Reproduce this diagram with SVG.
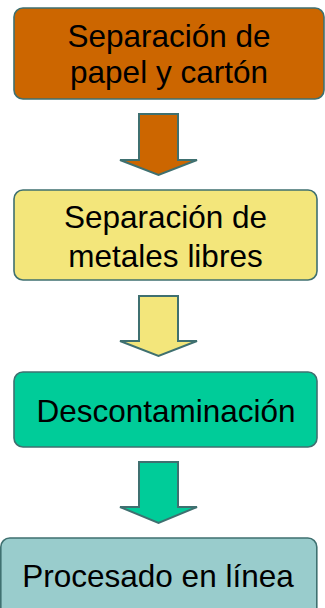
<svg xmlns="http://www.w3.org/2000/svg" width="325" height="608" viewBox="0 0 325 608">
<style>
.box{stroke:#3F7070;stroke-width:1.6}
.arr{stroke:#3F7070;stroke-width:2;stroke-linejoin:miter}
text{font-family:"Liberation Sans",Arial,sans-serif;font-size:31.5px;fill:#000;text-anchor:middle}
</style>
<rect width="325" height="608" fill="#fff"/>
<g id="node1">
<rect class="box" x="14" y="8" width="310" height="91" rx="9" fill="#CC6600"/>
<text x="169" y="46.5">Separación de</text>
<text x="169" y="82.5">papel y cartón</text>
</g>
<g id="node2">
<rect class="box" x="14" y="190" width="303" height="90" rx="9" fill="#F3E67B"/>
<text x="165.5" y="228">Separación de</text>
<text x="165.5" y="267">metales libres</text>
</g>
<g id="node3">
<rect class="box" x="14" y="372" width="303" height="75" rx="9" fill="#00CC99"/>
<text x="166" y="422">Descontaminación</text>
</g>
<g id="node4">
<rect class="box" x="0.8" y="538" width="316" height="80" rx="9" fill="#99CCCC"/>
<text x="158" y="587">Procesado en línea</text>
</g>
<g id="connectors">
<polygon class="arr" fill="#CC6600" points="139,114 178,114 178,160 197,160 158.5,175 120,160 139,160"/>
<polygon class="arr" fill="#F3E67B" points="139,296 178,296 178,341 197,341 158.5,356 120,341 139,341"/>
<polygon class="arr" fill="#00CC99" points="139,462 178,462 178,507 197,507 158.5,523 120,507 139,507"/>
</g>
</svg>
